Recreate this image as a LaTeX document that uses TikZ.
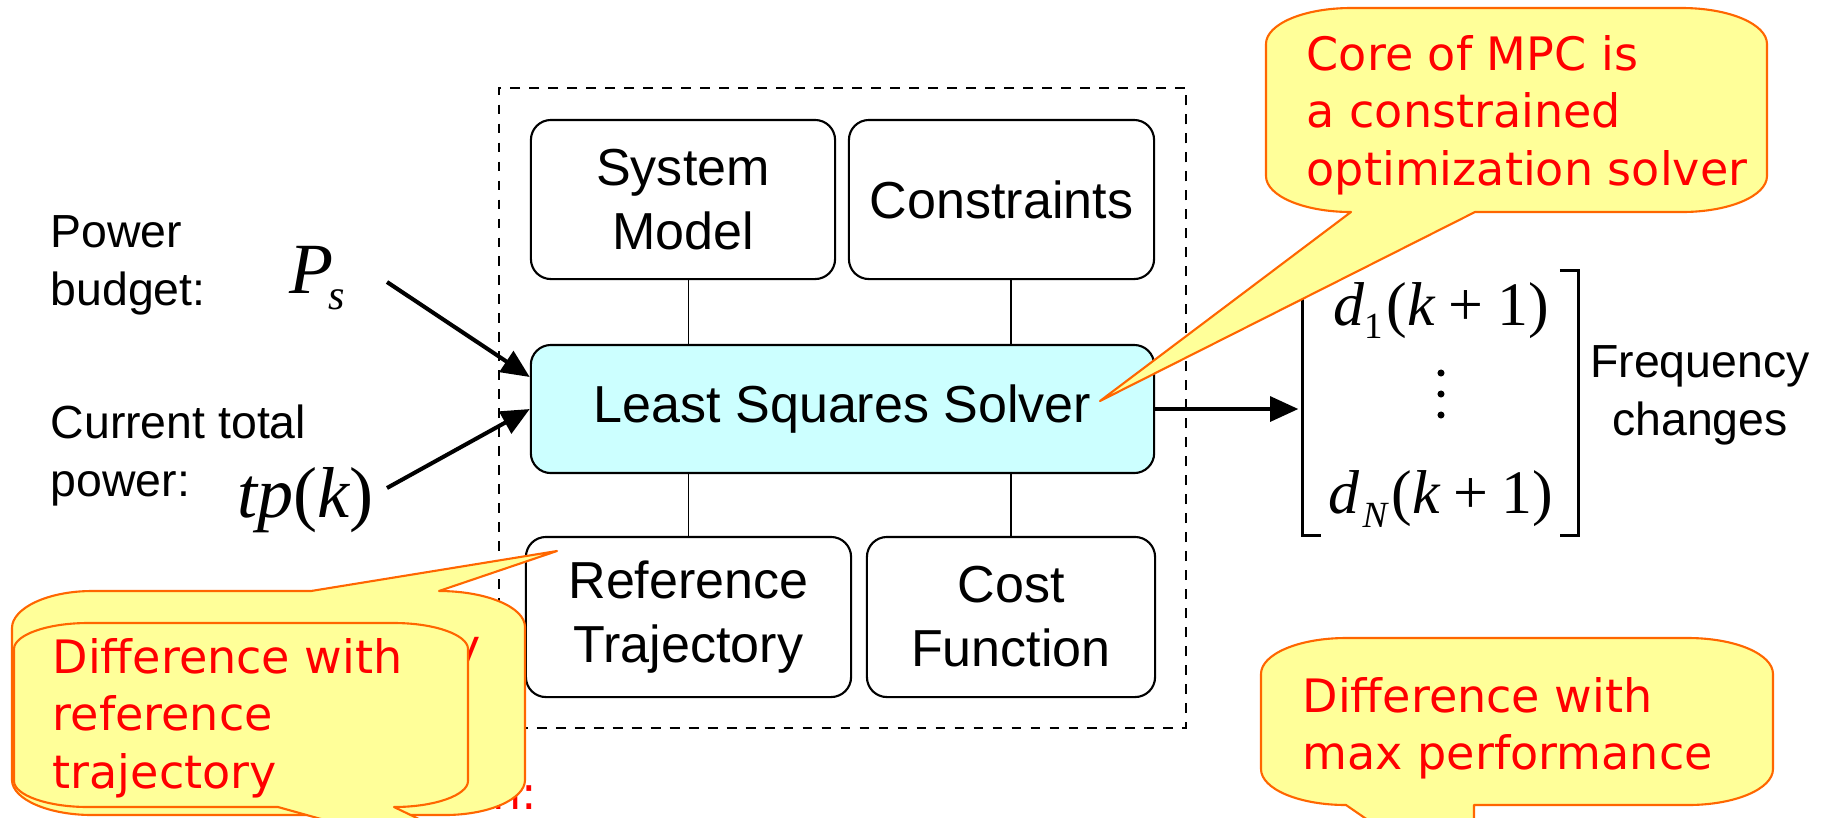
\documentclass[tikz,border=0pt]{standalone}
\usepackage{fontspec}
\setmainfont{Liberation Sans}
\newfontfamily\timesfont{Liberation Serif}
\newfontfamily\notefont{DejaVu Sans}
\usetikzlibrary{arrows.meta,calc}

\definecolor{noteFill}{HTML}{FFFF99}
\definecolor{noteEdge}{HTML}{FF6600}
\definecolor{noteText}{HTML}{FF0000}
\definecolor{solverFill}{HTML}{CCFFFF}

\tikzset{
  block/.style={draw, line width=0.6pt, rounded corners=0.2cm, align=center,
    inner sep=0pt, font=\fontsize{14.8}{18.2}\selectfont},
  mpcframe/.style={draw, dash pattern=on 2.8pt off 2.6pt, line width=0.6pt, inner sep=0pt},
  conn/.style={line width=0.5pt},
  feedarrow/.style={line width=1.15pt, -{Triangle[length=8pt,width=7pt]}},
  sidetext/.style={inner sep=0pt, font=\fontsize{13.2}{16.5}\selectfont},
  mathtext/.style={inner sep=0pt, font=\timesfont\fontsize{20.5}{20.5}\selectfont},
  vectext/.style={inner sep=0pt, font=\timesfont\fontsize{17.6}{17.6}\selectfont},
  callout/.style={fill=noteFill, draw=noteEdge, line width=0.6pt, line join=round},
  callouttext/.style={inner sep=0pt, text=noteText, font=\notefont\fontsize{13.1}{16.4}\selectfont},
}

\begin{document}
\begin{tikzpicture}[x=0.01cm, y=-0.01cm]
\useasboundingbox (0,0) rectangle (1832,817);
\clip (0,0) rectangle (1832,817);

% controller frame and its blocks
\node[mpcframe, minimum width=6.87cm, minimum height=6.40cm] (mpc) at (842.5,408) {};
\node[block, minimum width=3.04cm, minimum height=1.59cm] (sm) at (683,199.5) {System\\Model};
\node[block, minimum width=3.05cm, minimum height=1.59cm] (cn) at (1001.5,199.5) {Constraints};
\node[block, fill=solverFill, minimum width=6.23cm, minimum height=1.28cm] (lss) at (842.5,409) {Least Squares Solver};
\node[block, minimum width=3.25cm, minimum height=1.60cm] (ref) at (688.5,617) {Reference\\Trajectory};
\node[block, minimum width=2.88cm, minimum height=1.60cm] (cost) at (1011,617) {Cost\\Function};

\draw[conn] (sm.south -| ref.north) -- (lss.north -| ref.north);
\draw[conn] (cn.south -| cost.north) -- (lss.north -| cost.north);
\draw[conn] (lss.south -| ref.north) -- (ref.north);
\draw[conn] (lss.south -| cost.north) -- (cost.north);

% inputs
\node[sidetext, anchor=base west] (pb) at (50,247)
  {\begin{tabular}[t]{@{}l@{}}Power\\budget:\end{tabular}};
\node[sidetext, anchor=base west] (ctp) at (50,438)
  {\begin{tabular}[t]{@{}l@{}}Current total\\power:\end{tabular}};
\node[mathtext, anchor=base west] (ps) at (289,293)
  {\itshape P\kern-1.5pt\raisebox{-4.8pt}{\fontsize{12}{12}\selectfont s}};
\node[mathtext, anchor=base west] (tp) at (237,517)
  {\itshape tp\upshape(\itshape k\upshape)};

\coordinate (in1) at (387,282);
\coordinate (in2) at (387,488);
\draw[feedarrow] (in1) -- ($(lss.west)+(0,-32)$);
\draw[feedarrow] (in2) -- (lss.west);

% output vector
\node[inner sep=0pt, minimum width=2.75cm, minimum height=2.64cm] (vec) at (1440.5,403) {};
\draw[line width=0.9pt] ($(vec.north west)+(19,0)$) -- (vec.north west) -- (vec.south west) -- ($(vec.south west)+(19,0)$);
\draw[line width=0.9pt] ($(vec.north east)+(-19,0)$) -- (vec.north east) -- (vec.south east) -- ($(vec.south east)+(-19,0)$);
\node[vectext, anchor=base] (d1) at (1441,325)
  {\itshape d\raisebox{-3.7pt}{\fontsize{10.5}{10.5}\selectfont\upshape 1}\kern1.2pt\upshape(\itshape k\upshape\kern0.22em+\kern0.22em1)};
\node[vectext, anchor=base] (dn) at (1441,513)
  {\itshape d\kern0.8pt\raisebox{-4.2pt}{\fontsize{10.5}{10.5}\selectfont N}\kern1.2pt\upshape(\itshape k\upshape\kern0.22em+\kern0.22em1)};
\fill (1441,373) circle[radius=1pt];
\fill (1441,394) circle[radius=1pt];
\fill (1441,415) circle[radius=1pt];
\node[sidetext, anchor=base] (freq) at (1700,377)
  {\begin{tabular}[t]{@{}c@{}}Frequency\\changes\end{tabular}};

\draw[feedarrow, shorten >=1.1pt] (lss.east) -- (lss.east -| vec.west);

% callouts
\coordinate (tipLSS) at (1100,401);
\coordinate (tipRef) at (557,551);
\coordinate (tipFront) at (554,884);
\coordinate (tipPerf) at (1474,893);

\node[callouttext, anchor=base east] (fragA) at (538,809) {n:};

\path[callout] (92,591) -- (311,591) -- (tipRef) -- (439,591)
  .. controls (486,591) and (525,607) .. (525,627) -- (525,780)
  .. controls (525,799) and (489,815) .. (445,815) -- (92,815)
  .. controls (48,815) and (12,799) .. (12,780) -- (12,628)
  .. controls (12,608) and (48,591) .. (92,591) -- cycle;
\node[callouttext, anchor=base east] (fragB) at (481,662) {y};

\path[callout] (88,623) -- (394,623)
  .. controls (435,623) and (468,635) .. (468,649) -- (468,781)
  .. controls (468,795) and (435,807) .. (394,807) -- (tipFront) -- (278,807) -- (88,807)
  .. controls (47,807) and (14,795) .. (14,781) -- (14,649)
  .. controls (14,635) and (47,623) .. (88,623) -- cycle;
\node[callouttext, anchor=base west] (noteRef) at (52,673)
  {\begin{tabular}[t]{@{}l@{}}Difference with\\reference\\trajectory\end{tabular}};

\path[callout] (1351,8) -- (1682,8)
  .. controls (1729,8) and (1767,24) .. (1767,44) -- (1767,176)
  .. controls (1767,196) and (1729,212) .. (1682,212) -- (1475,212) -- (tipLSS) -- (1351,212)
  .. controls (1304,212) and (1266,196) .. (1266,176) -- (1266,44)
  .. controls (1266,24) and (1304,8) .. (1351,8) -- cycle;
\node[callouttext, anchor=base west] (noteCore) at (1306,70)
  {\begin{tabular}[t]{@{}l@{}}Core of MPC is\\a constrained\\optimization solver\end{tabular}};

\path[callout] (1346,638) -- (1688,638)
  .. controls (1735,638) and (1773,654) .. (1773,674) -- (1773,769)
  .. controls (1773,789) and (1735,805) .. (1688,805) -- (1474,805) -- (tipPerf) -- (1346,805)
  .. controls (1299,805) and (1261,789) .. (1261,769) -- (1261,674)
  .. controls (1261,654) and (1299,638) .. (1346,638) -- cycle;
\node[callouttext, anchor=base west] (notePerf) at (1302,712)
  {\begin{tabular}[t]{@{}l@{}}Difference with\\max performance\end{tabular}};
\end{tikzpicture}
\end{document}
